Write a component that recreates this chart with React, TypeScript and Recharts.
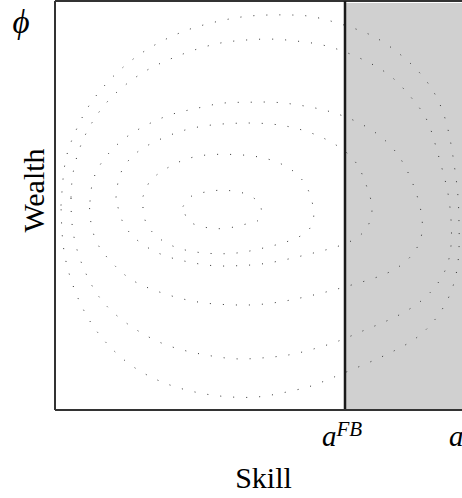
import React from "react";
import {
  LineChart,
  Line,
  XAxis,
  YAxis,
  ReferenceArea,
  ReferenceLine,
} from "recharts";

// axis ranges and marks
const skillMax = 4.17;
const wealthMax = 4.08;
const aFB = 2.9;
const skillTicks = [aFB, skillMax];
const skillTickSup = ["FB", ""];
const wealthTicks = [wealthMax];

// dotted contour rings as [skill, wealth]
const ring1 = [
  [0.06, 2.04], [0.08, 2.3], [0.12, 2.55], [0.21, 2.79], [0.33, 3.02], [0.49, 3.23],
  [0.67, 3.41], [0.88, 3.57], [1.11, 3.7], [1.35, 3.8], [1.6, 3.87], [1.86, 3.92],
  [2.12, 3.94], [2.38, 3.94], [2.64, 3.91], [3.01, 3.8], [3.25, 3.69], [3.46, 3.54],
  [3.65, 3.36], [3.8, 3.15], [3.9, 2.91], [3.96, 2.65], [4.0, 2.39], [4.03, 2.13],
  [4.04, 1.87], [4.04, 1.61], [4.01, 1.35], [3.93, 1.11], [3.79, 0.89], [3.6, 0.71],
  [3.37, 0.58], [3.13, 0.47], [2.77, 0.32], [2.53, 0.23], [2.27, 0.17], [2.02, 0.13],
  [1.76, 0.13], [1.5, 0.16], [1.24, 0.22], [1.0, 0.31], [0.77, 0.44], [0.57, 0.61],
  [0.4, 0.81], [0.27, 1.03], [0.17, 1.27], [0.1, 1.53], [0.07, 1.78], [0.06, 2.04],
];
const ring2 = [
  [0.16, 2.12], [0.18, 2.36], [0.25, 2.62], [0.36, 2.85], [0.51, 3.06], [0.7, 3.24],
  [0.92, 3.39], [1.15, 3.5], [1.39, 3.59], [1.65, 3.66], [1.9, 3.69], [2.16, 3.7],
  [2.42, 3.68], [2.68, 3.64], [2.93, 3.56], [3.17, 3.45], [3.38, 3.31], [3.56, 3.12],
  [3.71, 2.91], [3.8, 2.66], [3.87, 2.41], [3.93, 2.16], [3.96, 1.9], [3.96, 1.64],
  [3.9, 1.39], [3.75, 1.17], [3.55, 1.01], [3.32, 0.89], [3.08, 0.79], [2.84, 0.69],
  [2.59, 0.61], [2.34, 0.55], [2.08, 0.52], [1.82, 0.51], [1.56, 0.54], [1.31, 0.59],
  [1.06, 0.67], [0.83, 0.79], [0.62, 0.94], [0.44, 1.13], [0.31, 1.36], [0.22, 1.6],
  [0.17, 1.86], [0.16, 2.12],
];
const ring3 = [
  [0.35, 2.08], [0.39, 2.32], [0.52, 2.54], [0.71, 2.72], [0.93, 2.85], [1.17, 2.95],
  [1.42, 3.01], [1.67, 3.06], [1.93, 3.07], [2.19, 3.07], [2.45, 3.04], [2.7, 2.99],
  [2.94, 2.91], [3.17, 2.79], [3.37, 2.62], [3.51, 2.41], [3.61, 2.17], [3.67, 1.91],
  [3.64, 1.66], [3.48, 1.46], [3.26, 1.34], [3.01, 1.26], [2.76, 1.19], [2.51, 1.13],
  [2.26, 1.08], [2.0, 1.05], [1.74, 1.05], [1.48, 1.07], [1.23, 1.12], [0.98, 1.2],
  [0.75, 1.31], [0.56, 1.48], [0.41, 1.69], [0.35, 1.94], [0.35, 2.08],
];
const ring4 = [
  [0.61, 2.12], [0.66, 2.37], [0.82, 2.57], [1.05, 2.7], [1.29, 2.79], [1.54, 2.84],
  [1.8, 2.86], [2.06, 2.86], [2.32, 2.83], [2.57, 2.76], [2.8, 2.65], [3.0, 2.48],
  [3.11, 2.25], [3.17, 2.0], [3.08, 1.77], [2.85, 1.64], [2.6, 1.57], [2.35, 1.51],
  [2.09, 1.46], [1.84, 1.44], [1.58, 1.44], [1.32, 1.48], [1.07, 1.55], [0.84, 1.68],
  [0.68, 1.87], [0.61, 2.12],
];
const ring5 = [
  [0.88, 2.13], [0.93, 2.25], [1.01, 2.34], [1.23, 2.47], [1.48, 2.54], [1.74, 2.55],
  [2.0, 2.53], [2.25, 2.46], [2.46, 2.31], [2.57, 2.08], [2.56, 1.83], [2.35, 1.69],
  [2.1, 1.62], [1.85, 1.57], [1.59, 1.56], [1.33, 1.59], [1.09, 1.68], [0.91, 1.87],
  [0.88, 2.13],
];
const ring6 = [
  [1.28, 2.03], [1.36, 2.13], [1.48, 2.17], [1.61, 2.19], [1.73, 2.19], [1.86, 2.17],
  [1.98, 2.12], [2.06, 2.02], [2.04, 1.9], [1.93, 1.86], [1.68, 1.81], [1.43, 1.84],
  [1.32, 1.91], [1.28, 2.03],
];
const rings = [ring1, ring2, ring3, ring4, ring5, ring6];

const serif = "'Liberation Serif', 'Times New Roman', serif";

function SkillTick(props: any) {
  const { x, y, payload, index } = props;
  const sup = skillTickSup[index] ?? (payload.value === aFB ? "FB" : "");
  return (
    <text x={x - 23} y={y + 36} fontFamily={serif} fontStyle="italic" fontSize={29} fill="#000">
      <tspan>a</tspan>
      {sup ? (
        <tspan dy={-10} fontSize={21}>
          {sup}
        </tspan>
      ) : null}
    </text>
  );
}

function WealthTick(props: any) {
  const { x, y } = props;
  return (
    <text x={x - 34} y={y + 32} textAnchor="middle" fontFamily={serif} fontStyle="italic" fontSize={33} fill="#000">
      ϕ
    </text>
  );
}

function SkillLabel(props: any) {
  const vb = props.viewBox || { x: 55, y: 410, width: 417, height: 60 };
  return (
    <text x={vb.x + vb.width / 2} y={vb.y + 78} textAnchor="middle" fontFamily={serif} fontSize={30} fill="#000">
      Skill
    </text>
  );
}

function WealthLabel(props: any) {
  const vb = props.viewBox || { x: 0, y: 1, width: 55, height: 409 };
  const cx = vb.x + 44;
  const cy = vb.y + vb.height / 2 - 15;
  return (
    <text x={cx} y={cy} transform={`rotate(-90, ${cx}, ${cy})`} textAnchor="middle" fontFamily={serif} fontSize={30} fill="#000">
      Wealth
    </text>
  );
}

export default function App() {
  return (
    <div
      style={{
        position: "absolute",
        left: 0,
        top: 0,
        width: 462,
        height: 498,
        overflow: "hidden",
        background: "#fff",
      }}
    >
      <LineChart width={490} height={498} margin={{ top: 1, right: 18, bottom: 28, left: 0 }}>
        <XAxis
          type="number"
          dataKey="x"
          domain={[0, skillMax]}
          ticks={skillTicks}
          interval={0}
          height={60}
          tickSize={0}
          tickMargin={0}
          tickLine={false}
          axisLine={{ stroke: "#333", strokeWidth: 2 }}
          tick={<SkillTick />}
          label={<SkillLabel />}
        />
        <YAxis
          type="number"
          domain={[0, wealthMax]}
          ticks={wealthTicks}
          interval={0}
          width={55}
          tickSize={0}
          tickMargin={0}
          tickLine={false}
          axisLine={{ stroke: "#333", strokeWidth: 2 }}
          tick={<WealthTick />}
          label={<WealthLabel />}
        />
        <ReferenceArea
          x1={aFB}
          x2={skillMax}
          y1={0}
          y2={4.06}
          fill="#d0d0d0"
          fillOpacity={1}
          stroke="none"
        />
        <ReferenceLine y={wealthMax} stroke="#333" strokeWidth={2} />
        <ReferenceLine x={aFB} stroke="#1a1a1a" strokeWidth={2.5} />
        {rings.map((ring, i) => (
          <Line
            key={i}
            data={ring.map(([x, y]) => ({ x, y }))}
            dataKey="y"
            type="natural"
            stroke="#333"
            strokeWidth={1}
            strokeDasharray="1 12"
            dot={false}
            activeDot={false}
            isAnimationActive={false}
          />
        ))}
      </LineChart>
    </div>
  );
}
